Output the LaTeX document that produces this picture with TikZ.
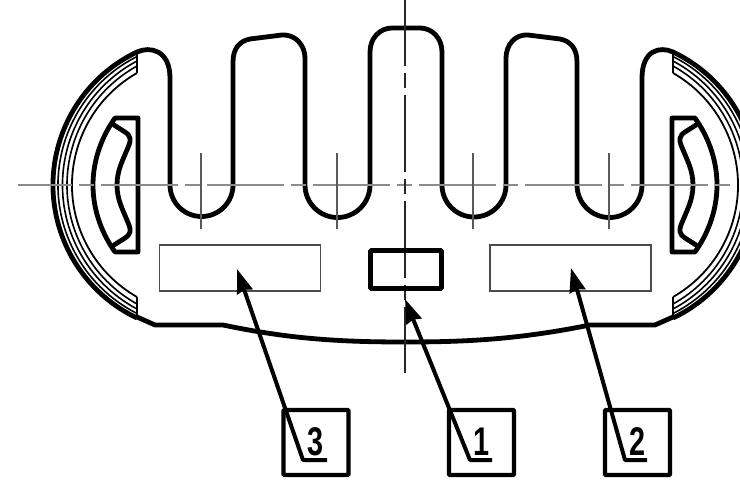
\documentclass[tikz,border=0pt]{standalone}
\usepackage{fontspec}
\setmainfont{Liberation Sans}
\usetikzlibrary{arrows.meta}
\tikzset{outline/.style={line width=4.8pt, line join=round, line cap=round},
hatchline/.style={line width=1.6pt},
plate/.style={draw=black!70, line width=1.1pt, inner sep=0pt},
tagbox/.style={draw, line width=4.4pt, rounded corners=1pt, minimum size=65pt, inner sep=0pt,
    font=\fontsize{40}{40}\selectfont\bfseries},
leader/.style={line width=4pt, line join=round, -{Stealth[length=24pt,width=16pt,inset=2pt]}},
axis/.style={draw=black!45, line width=1.8pt, dash pattern=on 77pt off 7pt on 15pt off 7pt, dash phase=23pt},
axisv/.style={draw=black!85, line width=1.1pt, dash pattern=on 77pt off 7pt on 15pt off 7pt, dash phase=11pt},
tick/.style={draw=black!65, line width=1.1pt}}

\begin{document}
\begin{tikzpicture}[x=1pt,y=-1pt]
\useasboundingbox (0,0) rectangle (740,483);
\clip (0,0) rectangle (740,483);
% end bands and slots, left and right
\foreach \side in {1,-1}{
\begin{scope}[shift={(405,0)},xscale=\side,shift={(-405,0)}]
  \foreach \xl/\yt/\wd in {53/52/4.8, 58/56.5/1.6, 62.5/61/1.6, 67/66/1.6, 72/73/1.8}{
    \pgfmathsetmacro{\sag}{137-\xl}
    \pgfmathsetmacro{\hgt}{185-\yt}
    \pgfmathsetmacro{\rad}{(\hgt/\sag*\hgt+\sag)/2}
    \pgfmathsetmacro{\ang}{atan2(\hgt,\rad-\sag)}
    \draw[line width=\wd pt] (137,\yt) arc[start angle=180+\ang, end angle=180-\ang, radius=\rad];
  }
  \draw[hatchline] (137,52) -- (137,73) (137,297) -- (137,317);
  \draw[outline] (115,118) .. controls (103,135) and (93,158) .. (93,185)
    .. controls (93,212) and (103,235) .. (115,252) -- (138,252) -- (138,118) -- cycle;
  \draw[outline] (114,125) -- (125,132) .. controls (131,136) and (131,140) .. (129,145)
    .. controls (123,160) and (117,170) .. (117,185)
    .. controls (117,200) and (123,210) .. (129,225)
    .. controls (131,230) and (131,234) .. (125,238) -- (114,245);
\end{scope}
}
% body
\draw[outline] (137,52) .. controls (150,46) and (170,50) .. (170,78) -- (170,185)
  arc[start angle=180, end angle=0, radius=31.5] -- (233,62)
  .. controls (233,48) and (240,41) .. (250,39) -- (282,35)
  .. controls (295,34) and (305,45) .. (305,58) -- (305,185)
  arc[start angle=180, end angle=0, radius=32.5] -- (370,52)
  .. controls (370,38) and (380,28) .. (392,28) -- (420,28)
  .. controls (432,28) and (442,38) .. (442,52) -- (442,185)
  arc[start angle=180, end angle=0, radius=32] -- (506,58)
  .. controls (506,45) and (515,34) .. (528,35) -- (560,39)
  .. controls (570,41) and (577,48) .. (577,62) -- (577,185)
  arc[start angle=180, end angle=0, radius=32.5] -- (642,78)
  .. controls (642,50) and (660,46) .. (673,52);
\draw[outline] (137,317) -- (155,325) -- (223,325)
  .. controls (290,339) and (340,342) .. (405,342)
  .. controls (470,342) and (520,339) .. (590,325) -- (655,325) -- (673,317);
% center lines
\draw[axis] (18,185) -- (730,185);
\draw[axisv] (405,0) -- (405,373);
\foreach \cx in {201,337,473,609}
  \draw[tick] (\cx,153) -- (\cx,229);
% plates
\node[plate, minimum width=161pt, minimum height=46pt] (plate3) at (240,268) {};
\node[plate, minimum width=161pt, minimum height=46pt] (plate2) at (570.5,268) {};
\node[draw, line width=4.8pt, rounded corners=1pt, minimum width=71pt, minimum height=38pt, inner sep=0pt] (plate1) at (406,269.5) {};
% tags
\node[tagbox] (tag3) at (316,442.5) {\raisebox{1pt}{\scalebox{.72}[1]{3}}};
\node[tagbox] (tag1) at (481.5,442.5) {\raisebox{1pt}{\scalebox{.72}[1]{1}}};
\node[tagbox] (tag2) at (637.5,442.5) {\raisebox{1pt}{\scalebox{.72}[1]{2}}};
\coordinate (end3) at (327,460);
\coordinate (end1) at (492,460);
\coordinate (end2) at (647,460);
\coordinate (knee3) at (303,460);
\coordinate (knee1) at (470,460);
\coordinate (knee2) at (625,460);
\coordinate (tip3) at (237,269);
\coordinate (tip1) at (405,299);
\coordinate (tip2) at (571,268);
\draw[leader] (end3) -- (knee3) -- (tip3);
\draw[leader] (end1) -- (knee1) -- (tip1);
\draw[leader] (end2) -- (knee2) -- (tip2);
\end{tikzpicture}
\end{document}
